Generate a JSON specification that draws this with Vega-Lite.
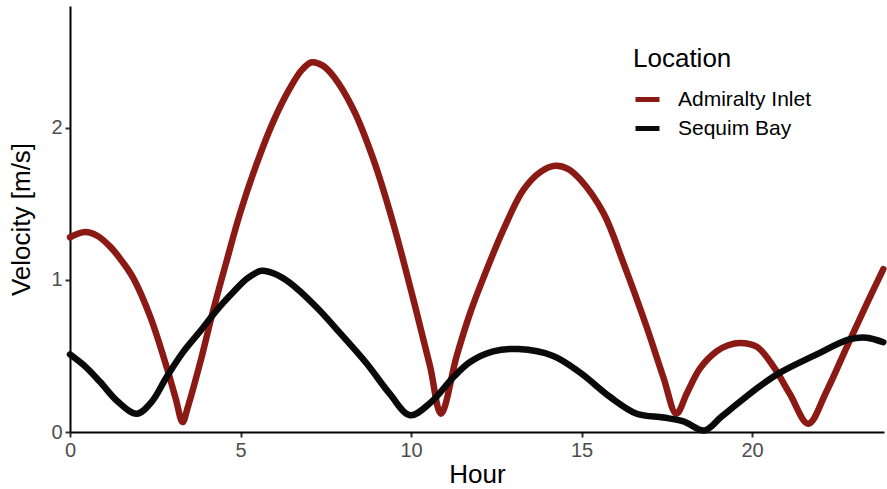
{
  "$schema": "https://vega.github.io/schema/vega-lite/v6.json",
  "width": 814,
  "height": 426,
  "autosize": {"type": "none"},
  "padding": {"left": 70, "top": 6, "right": 3, "bottom": 57},
  "background": "white",
  "config": {
    "font": "Liberation Sans",
    "view": {"stroke": null},
    "axis": {
      "grid": false,
      "domainColor": "#000000",
      "domainWidth": 2,
      "tickColor": "#333333",
      "tickWidth": 2,
      "tickSize": 5,
      "labelFontSize": 20,
      "labelColor": "#4d4d4d",
      "labelPadding": 3,
      "labelFlush": false,
      "titleFontSize": 26,
      "titleFontWeight": "normal",
      "titleColor": "#000000"
    },
    "legend": {
      "titleFontSize": 26,
      "titleFontWeight": "normal",
      "titleColor": "#000000",
      "labelFontSize": 21,
      "labelColor": "#000000"
    }
  },
  "data": {
    "values": [
      {"Hour": 0, "Velocity": 1.28, "Location": "Admiralty Inlet"},
      {"Hour": 0.44, "Velocity": 1.315, "Location": "Admiralty Inlet"},
      {"Hour": 0.8, "Velocity": 1.29, "Location": "Admiralty Inlet"},
      {"Hour": 1.17, "Velocity": 1.22, "Location": "Admiralty Inlet"},
      {"Hour": 1.5, "Velocity": 1.13, "Location": "Admiralty Inlet"},
      {"Hour": 1.86, "Velocity": 1.01, "Location": "Admiralty Inlet"},
      {"Hour": 2.35, "Velocity": 0.76, "Location": "Admiralty Inlet"},
      {"Hour": 2.83, "Velocity": 0.43, "Location": "Admiralty Inlet"},
      {"Hour": 3.1, "Velocity": 0.22, "Location": "Admiralty Inlet"},
      {"Hour": 3.3, "Velocity": 0.065, "Location": "Admiralty Inlet"},
      {"Hour": 3.45, "Velocity": 0.16, "Location": "Admiralty Inlet"},
      {"Hour": 3.81, "Velocity": 0.45, "Location": "Admiralty Inlet"},
      {"Hour": 4.2, "Velocity": 0.8, "Location": "Admiralty Inlet"},
      {"Hour": 4.6, "Velocity": 1.13, "Location": "Admiralty Inlet"},
      {"Hour": 4.99, "Velocity": 1.44, "Location": "Admiralty Inlet"},
      {"Hour": 5.47, "Velocity": 1.76, "Location": "Admiralty Inlet"},
      {"Hour": 5.96, "Velocity": 2.04, "Location": "Admiralty Inlet"},
      {"Hour": 6.45, "Velocity": 2.26, "Location": "Admiralty Inlet"},
      {"Hour": 6.8, "Velocity": 2.38, "Location": "Admiralty Inlet"},
      {"Hour": 7.09, "Velocity": 2.43, "Location": "Admiralty Inlet"},
      {"Hour": 7.4, "Velocity": 2.41, "Location": "Admiralty Inlet"},
      {"Hour": 7.72, "Velocity": 2.34, "Location": "Admiralty Inlet"},
      {"Hour": 8.31, "Velocity": 2.12, "Location": "Admiralty Inlet"},
      {"Hour": 8.9, "Velocity": 1.79, "Location": "Admiralty Inlet"},
      {"Hour": 9.48, "Velocity": 1.37, "Location": "Admiralty Inlet"},
      {"Hour": 10.07, "Velocity": 0.87, "Location": "Admiralty Inlet"},
      {"Hour": 10.56, "Velocity": 0.43, "Location": "Admiralty Inlet"},
      {"Hour": 10.88, "Velocity": 0.12, "Location": "Admiralty Inlet"},
      {"Hour": 11.34, "Velocity": 0.5, "Location": "Admiralty Inlet"},
      {"Hour": 11.73, "Velocity": 0.78, "Location": "Admiralty Inlet"},
      {"Hour": 12.1, "Velocity": 1.0, "Location": "Admiralty Inlet"},
      {"Hour": 12.71, "Velocity": 1.33, "Location": "Admiralty Inlet"},
      {"Hour": 13.29, "Velocity": 1.59, "Location": "Admiralty Inlet"},
      {"Hour": 13.8, "Velocity": 1.71, "Location": "Admiralty Inlet"},
      {"Hour": 14.22, "Velocity": 1.75, "Location": "Admiralty Inlet"},
      {"Hour": 14.6, "Velocity": 1.73, "Location": "Admiralty Inlet"},
      {"Hour": 14.96, "Velocity": 1.66, "Location": "Admiralty Inlet"},
      {"Hour": 15.64, "Velocity": 1.44, "Location": "Admiralty Inlet"},
      {"Hour": 16.23, "Velocity": 1.11, "Location": "Admiralty Inlet"},
      {"Hour": 16.91, "Velocity": 0.69, "Location": "Admiralty Inlet"},
      {"Hour": 17.4, "Velocity": 0.36, "Location": "Admiralty Inlet"},
      {"Hour": 17.78, "Velocity": 0.12, "Location": "Admiralty Inlet"},
      {"Hour": 18.1, "Velocity": 0.26, "Location": "Admiralty Inlet"},
      {"Hour": 18.48, "Velocity": 0.42, "Location": "Admiralty Inlet"},
      {"Hour": 18.96, "Velocity": 0.53, "Location": "Admiralty Inlet"},
      {"Hour": 19.3, "Velocity": 0.57, "Location": "Admiralty Inlet"},
      {"Hour": 19.65, "Velocity": 0.585, "Location": "Admiralty Inlet"},
      {"Hour": 20.14, "Velocity": 0.56, "Location": "Admiralty Inlet"},
      {"Hour": 20.63, "Velocity": 0.43, "Location": "Admiralty Inlet"},
      {"Hour": 21.11, "Velocity": 0.25, "Location": "Admiralty Inlet"},
      {"Hour": 21.65, "Velocity": 0.055, "Location": "Admiralty Inlet"},
      {"Hour": 22.19, "Velocity": 0.27, "Location": "Admiralty Inlet"},
      {"Hour": 22.78, "Velocity": 0.56, "Location": "Admiralty Inlet"},
      {"Hour": 23.36, "Velocity": 0.84, "Location": "Admiralty Inlet"},
      {"Hour": 23.85, "Velocity": 1.07, "Location": "Admiralty Inlet"},
      {"Hour": 0, "Velocity": 0.51, "Location": "Sequim Bay"},
      {"Hour": 0.45, "Velocity": 0.43, "Location": "Sequim Bay"},
      {"Hour": 0.88, "Velocity": 0.33, "Location": "Sequim Bay"},
      {"Hour": 1.4, "Velocity": 0.2, "Location": "Sequim Bay"},
      {"Hour": 1.96, "Velocity": 0.12, "Location": "Sequim Bay"},
      {"Hour": 2.4, "Velocity": 0.2, "Location": "Sequim Bay"},
      {"Hour": 2.83, "Velocity": 0.36, "Location": "Sequim Bay"},
      {"Hour": 3.3, "Velocity": 0.52, "Location": "Sequim Bay"},
      {"Hour": 3.81, "Velocity": 0.66, "Location": "Sequim Bay"},
      {"Hour": 4.3, "Velocity": 0.8, "Location": "Sequim Bay"},
      {"Hour": 4.79, "Velocity": 0.92, "Location": "Sequim Bay"},
      {"Hour": 5.2, "Velocity": 1.01, "Location": "Sequim Bay"},
      {"Hour": 5.62, "Velocity": 1.06, "Location": "Sequim Bay"},
      {"Hour": 6.0, "Velocity": 1.04, "Location": "Sequim Bay"},
      {"Hour": 6.45, "Velocity": 0.98, "Location": "Sequim Bay"},
      {"Hour": 7.23, "Velocity": 0.82, "Location": "Sequim Bay"},
      {"Hour": 7.92, "Velocity": 0.65, "Location": "Sequim Bay"},
      {"Hour": 8.7, "Velocity": 0.45, "Location": "Sequim Bay"},
      {"Hour": 9.38, "Velocity": 0.25, "Location": "Sequim Bay"},
      {"Hour": 9.97, "Velocity": 0.11, "Location": "Sequim Bay"},
      {"Hour": 10.56, "Velocity": 0.19, "Location": "Sequim Bay"},
      {"Hour": 11.24, "Velocity": 0.36, "Location": "Sequim Bay"},
      {"Hour": 11.73, "Velocity": 0.46, "Location": "Sequim Bay"},
      {"Hour": 12.41, "Velocity": 0.53, "Location": "Sequim Bay"},
      {"Hour": 13.15, "Velocity": 0.545, "Location": "Sequim Bay"},
      {"Hour": 14.17, "Velocity": 0.5, "Location": "Sequim Bay"},
      {"Hour": 14.96, "Velocity": 0.39, "Location": "Sequim Bay"},
      {"Hour": 15.84, "Velocity": 0.23, "Location": "Sequim Bay"},
      {"Hour": 16.62, "Velocity": 0.12, "Location": "Sequim Bay"},
      {"Hour": 17.4, "Velocity": 0.095, "Location": "Sequim Bay"},
      {"Hour": 17.99, "Velocity": 0.07, "Location": "Sequim Bay"},
      {"Hour": 18.6, "Velocity": 0.01, "Location": "Sequim Bay"},
      {"Hour": 19.1, "Velocity": 0.1, "Location": "Sequim Bay"},
      {"Hour": 19.65, "Velocity": 0.2, "Location": "Sequim Bay"},
      {"Hour": 20.22, "Velocity": 0.3, "Location": "Sequim Bay"},
      {"Hour": 20.82, "Velocity": 0.39, "Location": "Sequim Bay"},
      {"Hour": 21.8, "Velocity": 0.5, "Location": "Sequim Bay"},
      {"Hour": 22.87, "Velocity": 0.61, "Location": "Sequim Bay"},
      {"Hour": 23.36, "Velocity": 0.62, "Location": "Sequim Bay"},
      {"Hour": 23.85, "Velocity": 0.59, "Location": "Sequim Bay"}
    ]
  },
  "mark": {"type": "line", "strokeWidth": 6.5, "interpolate": "catmull-rom", "strokeCap": "round", "strokeJoin": "round"},
  "encoding": {
    "x": {
      "field": "Hour",
      "type": "quantitative",
      "scale": {"domain": [0, 23.87], "nice": false, "zero": false},
      "axis": {"title": "Hour", "values": [0, 5, 10, 15, 20], "titlePadding": 1}
    },
    "y": {
      "field": "Velocity",
      "type": "quantitative",
      "scale": {"domain": [0, 2.8], "nice": false},
      "axis": {"title": "Velocity [m/s]", "values": [0, 1, 2], "titlePadding": 16}
    },
    "color": {
      "field": "Location",
      "type": "nominal",
      "scale": {"domain": ["Admiralty Inlet", "Sequim Bay"], "range": ["#8B1A14", "#0a0a0a"]},
      "legend": {
        "title": "Location",
        "orient": "none",
        "legendX": 563,
        "legendY": 40,
        "padding": 0,
        "symbolType": "stroke",
        "symbolStrokeWidth": 5,
        "symbolSize": 576,
        "labelOffset": 16,
        "rowPadding": 4,
        "titlePadding": 13
      }
    }
  }
}
